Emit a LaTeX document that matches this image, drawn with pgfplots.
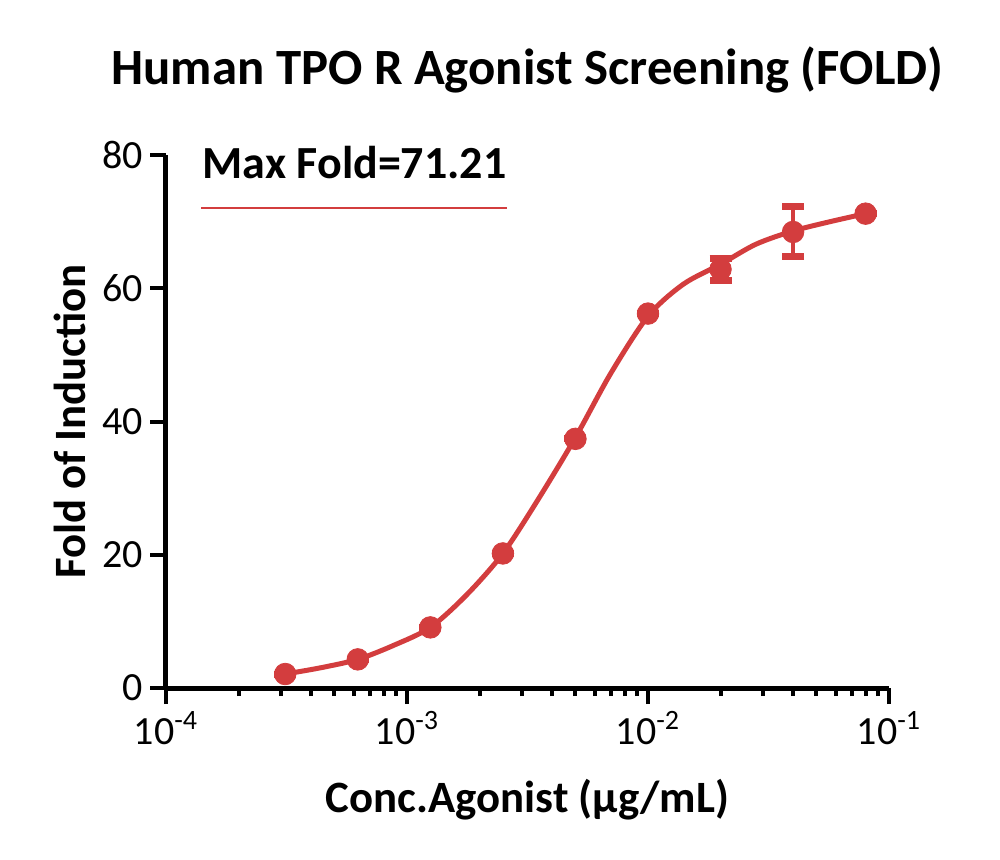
\documentclass[border=0pt]{standalone}
\usepackage{fontspec}
\setmainfont{Carlito}
\usepackage{pgfplots}
\pgfplotsset{compat=1.18}
\definecolor{tpored}{HTML}{D33D3E}

\begin{document}
\begin{tikzpicture}
\path[use as bounding box] (-83pt,-85.5pt) rectangle (417pt,344pt);
\begin{axis}[
  at={(0,0)}, anchor=south west,
  scale only axis, width=361.5pt, height=266.5pt,
  xmode=log, xmin=1e-4, xmax=1e-1, ymin=0, ymax=80,
  axis lines*=left,
  axis line style={line width=2.5pt, black},
  xtick={1e-4,1e-3,1e-2,1e-1},
  xticklabels={10\textsuperscript{-4},10\textsuperscript{-3},10\textsuperscript{-2},10\textsuperscript{-1}},
  minor xtick={2e-4,3e-4,4e-4,5e-4,6e-4,7e-4,8e-4,9e-4,
               2e-3,3e-3,4e-3,5e-3,6e-3,7e-3,8e-3,9e-3,
               2e-2,3e-2,4e-2,5e-2,6e-2,7e-2,8e-2,9e-2},
  ytick={0,20,40,60,80},
  tick align=outside, major tick length=8pt, minor tick length=4pt,
  tick style={black, line width=2pt},
  tick label style={font=\fontsize{20}{23}\selectfont},
  /pgf/number format/assume math mode=true,
  xlabel={Conc.Agonist (µg/mL)}, ylabel={Fold of Induction},
  label style={font=\fontsize{22.4}{26}\selectfont\bfseries},
  xlabel style={at={(axis description cs:0.5,-0.2101)}, anchor=center},
  ylabel style={at={(axis description cs:-0.1328,0.5)}, anchor=center},
  title={Human TPO R Agonist Screening (FOLD)},
  title style={at={(axis description cs:0.5,1.137)}, anchor=center, font=\fontsize{25.4}{30}\selectfont\bfseries},
  clip=false,
]
% fitted curve
\addplot[tpored, line width=2.5pt, smooth] coordinates {
  (0.0003125,2.1) (0.00044,3.05) (0.000625,4.3) (0.00088,6.4)
  (0.00125,9.1) (0.00177,14.0) (0.0025,20.2) (0.0035,28.3)
  (0.005,37.6) (0.007,47.2) (0.01,55.8) (0.014,60.6)
  (0.02,63.6) (0.028,66.6) (0.04,68.6) (0.057,70.0) (0.08,71.2)
};
% measured points
\addplot[only marks, mark=*, mark size=5.4pt, tpored,
  error bars/.cd, y dir=both, y explicit,
  error bar style={line width=2pt, tpored},
  error mark options={rotate=90, mark size=5.5pt, line width=3.5pt, tpored}]
  coordinates {
  (0.0003125,2.1) +- (0,0)
  (0.000625,4.3) +- (0,0)
  (0.00125,9.1) +- (0,0)
  (0.0025,20.2) +- (0,0)
  (0.005,37.4) +- (0,0)
  (0.01,56.2) +- (0,0)
  (0.02,62.85) +- (0,1.65)
  (0.04,68.45) +- (0,3.75)
  (0.08,71.2) +- (0,0)
};
\node[anchor=west, inner sep=0pt, font=\fontsize{23}{27}\selectfont\bfseries] at (rel axis cs:0.0502,0.985) {Max Fold=71.21};
\draw[tpored, line width=1.2pt] (rel axis cs:0.0488,0.9006) -- (rel axis cs:0.472,0.9006);
\end{axis}
\end{tikzpicture}
\end{document}
